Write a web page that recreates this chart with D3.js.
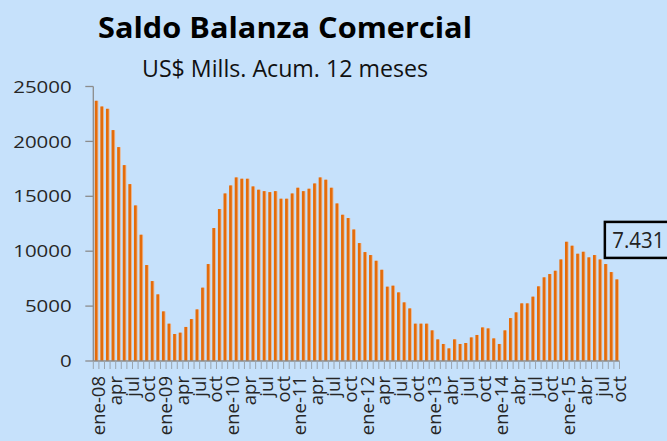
<!DOCTYPE html>
<html><head><meta charset="utf-8">
<script src="https://cdn.jsdelivr.net/npm/d3@7/dist/d3.min.js"></script>
<style>
html,body{margin:0;padding:0;background:#C6E1FB;}
svg{display:block;}
text{font-family:"Open Sans",sans-serif;}
</style></head>
<body>
<svg id="chart" width="667" height="441"></svg>
<script>
const title = "Saldo Balanza Comercial";
const subtitle = "US$ Mills. Acum. 12 meses";
const years = ["08","09","10","11","12","13","14","15"];
const monthKeys = ["ene","feb","mar","abr","may","jun","jul","ago","sep","oct","nov","dic"];
const categories = [];
years.forEach(yy => monthKeys.forEach(m => categories.push(m + "-" + yy)));
categories.splice(94); // ene-08 .. oct-15

const values = [
  23700, 23180, 22970, 21030, 19480, 17840, 16110, 14170, 11500, 8740, 7280, 6070,
  4520, 3400, 2460, 2580, 3100, 3820, 4700, 6680, 8830, 12110, 13840, 15260,
  15990, 16720, 16600, 16600, 15900, 15600, 15470, 15380, 15470, 14780, 14780, 15260,
  15780, 15470, 15690, 16170, 16720, 16510, 15780, 14350, 13320, 13020, 11980, 10740,
  9920, 9650, 9130, 8310, 6770, 6860, 6250, 5340, 4790, 3400, 3400, 3400,
  2790, 1970, 1550, 1150, 1970, 1550, 1640, 2150, 2370, 3060, 2970, 2060,
  1550, 2790, 3910, 4430, 5250, 5250, 5860, 6800, 7620, 7920, 8220, 9250,
  10860, 10500, 9770, 9950, 9440, 9650, 9250, 8830, 8100, 7431
];

const tickLabels = ["ene-08","apr","jul","oct","ene-09","apr","jul","oct",
  "ene-10","apr","jul","oct","ene-11","apr","jul","oct",
  "ene-12","apr","jul","oct","ene-13","abr","jul","oct",
  "ene-14","abr","jul","oct","ene-15","abr","jul","oct"];
const yTicks = [0, 5000, 10000, 15000, 20000, 25000];
const lastLabel = "7.431";

const svg = d3.select("#chart");
const mLeft = 93.3, mRight = 619.5, mTop = 86.5, mBottom = 361;

const x = d3.scaleBand().domain(categories).range([mLeft, mRight]).paddingInner(0.52).paddingOuter(0.26);
const xb = d3.scaleBand().domain(categories).range([mLeft, mRight]).padding(0);
const y = d3.scaleLinear().domain([0, 25000]).range([mBottom, mTop]);

// bars (shadow + main)
svg.append("g").selectAll("rect").data(values).join("rect")
  .attr("x", (d,i) => x(categories[i]) + 0.9)
  .attr("y", d => y(d))
  .attr("width", x.bandwidth())
  .attr("height", d => y(0) - y(d))
  .attr("fill", "#EDB48A");
svg.append("g").selectAll("rect").data(values).join("rect")
  .attr("x", (d,i) => x(categories[i]))
  .attr("y", d => y(d))
  .attr("width", x.bandwidth())
  .attr("height", d => y(0) - y(d))
  .attr("fill", "#E46C0A");

// y axis
const axisColor = "#8C8C8C";
svg.append("line").attr("x1", mLeft).attr("x2", mLeft).attr("y1", y(25000)).attr("y2", y(0))
  .attr("stroke", axisColor).attr("stroke-width", 1.3);
const yg = svg.append("g");
yg.selectAll("line").data(yTicks).join("line")
  .attr("x1", mLeft - 8).attr("x2", mLeft).attr("y1", d => y(d)).attr("y2", d => y(d))
  .attr("stroke", axisColor).attr("stroke-width", 1.3);
yg.selectAll("text").data(yTicks).join("text")
  .attr("x", mLeft - 21.6).attr("y", d => y(d)).attr("dy", "0.36em")
  .attr("text-anchor", "end").attr("font-size", 17).attr("fill", "#262626")
  .attr("textLength", d => String(d).length * 11.7).attr("lengthAdjust", "spacingAndGlyphs")
  .text(d => d);

// x axis
svg.append("line").attr("x1", mLeft).attr("x2", mRight).attr("y1", y(0)).attr("y2", y(0))
  .attr("stroke", axisColor).attr("stroke-width", 1.3);
const bounds = categories.map(c => xb(c)).concat([xb(categories[categories.length-1]) + xb.step()]);
svg.append("g").selectAll("line").data(bounds).join("line")
  .attr("x1", d => d).attr("x2", d => d).attr("y1", y(0)).attr("y2", y(0) + 8)
  .attr("stroke", "#9AA4AE").attr("stroke-width", 1);
svg.append("g").selectAll("text").data(tickLabels).join("text")
  .attr("transform", (d,i) => `translate(${xb(categories[i*3]) + xb.step()/2 + 0.5},${y(0) + 15}) rotate(-90)`)
  .attr("dy", "0.45em")
  .attr("text-anchor", "end").attr("font-size", 18.5).attr("fill", "#262626")
  .text(d => d);

// titles
svg.append("text").attr("x", 285).attr("y", 38.3).attr("text-anchor", "middle")
  .attr("font-size", 29).attr("font-weight", "bold").attr("fill", "#000")
  .attr("textLength", 374).attr("lengthAdjust", "spacingAndGlyphs")
  .text(title);
svg.append("text").attr("x", 285).attr("y", 77.3).attr("text-anchor", "middle")
  .attr("font-size", 24).attr("fill", "#111")
  .attr("textLength", 286).attr("lengthAdjust", "spacingAndGlyphs")
  .text(subtitle);

// annotation
const lastCat = categories[categories.length-1];
const ax = x(lastCat) - 10.5, ay = y(values[values.length-1]) - 57.5;
svg.append("rect").attr("x", ax).attr("y", ay).attr("width", 80).attr("height", 36)
  .attr("fill", "none").attr("stroke", "#000").attr("stroke-width", 2.5);
svg.append("text").attr("x", ax + 7.5).attr("y", ay + 26.5)
  .attr("font-size", 22).attr("fill", "#222")
  .attr("textLength", 52).attr("lengthAdjust", "spacingAndGlyphs")
  .text(lastLabel);
</script>
</body></html>
